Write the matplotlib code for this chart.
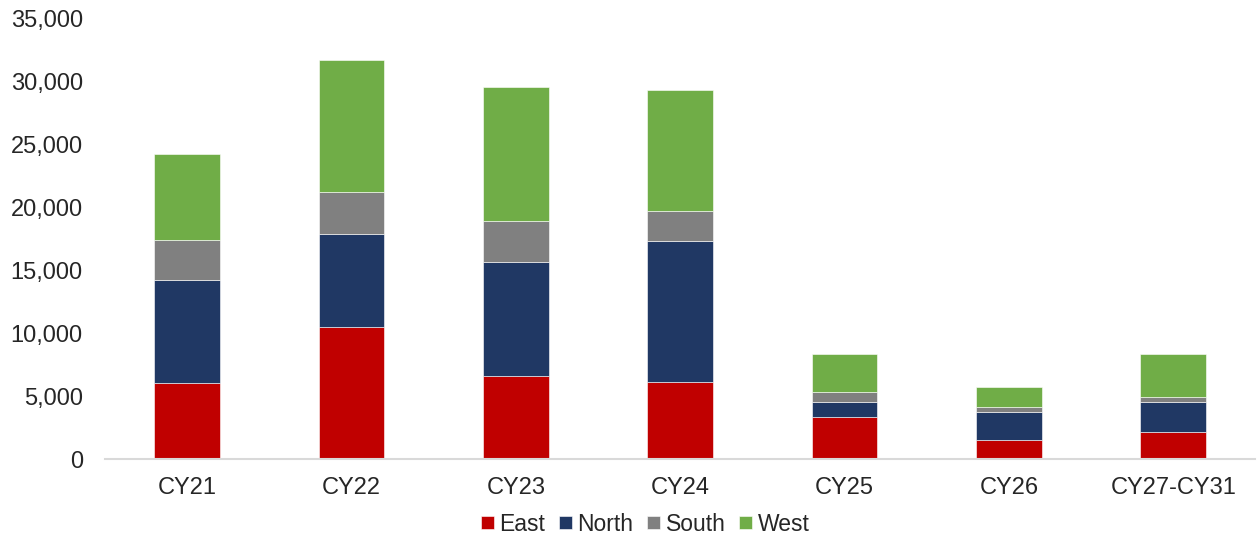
import matplotlib.pyplot as plt
import matplotlib.ticker as mticker
import numpy as np

plt.rcParams['font.family'] = ['Liberation Sans', 'DejaVu Sans']

categories = ['CY21', 'CY22', 'CY23', 'CY24', 'CY25', 'CY26', 'CY27-CY31']
east = [6000, 10450, 6550, 6100, 3300, 1480, 2120]
north = [8200, 7400, 9050, 11200, 1250, 2270, 2400]
south = [3200, 3350, 3300, 2400, 800, 400, 380]
west = [6800, 10500, 10600, 9600, 3000, 1540, 3430]

series = [('East', east, '#C00000'), ('North', north, '#203864'),
          ('South', south, '#808080'), ('West', west, '#70AD47')]

fig = plt.figure(figsize=(12.58, 5.38), dpi=100)
ax = fig.add_axes([0.0835, 0.1468, 0.9145, 0.8197])

x = np.arange(len(categories))
bottom = np.zeros(len(categories))
for name, vals, color in series:
    ax.bar(x, vals, width=0.4, bottom=bottom, color=color, label=name,
           edgecolor='white', linewidth=0.4)
    bottom += np.array(vals)

ax.set_xlim(-0.5, len(categories) - 0.5)
ax.set_ylim(0, 35000)
ax.set_yticks(np.arange(0, 35001, 5000))
ax.yaxis.set_major_formatter(mticker.FuncFormatter(lambda v, p: f'{int(v):,}'))
ax.set_xticks(x)
ax.set_xticklabels(categories)
ax.tick_params(axis='both', length=0, labelsize=17, colors='#262626')
ax.tick_params(axis='x', pad=13)
ax.tick_params(axis='y', pad=16)

for s in ['top', 'right', 'left']:
    ax.spines[s].set_visible(False)
ax.spines['bottom'].set_color('#D9D9D9')
ax.spines['bottom'].set_linewidth(1.5)

fig.legend(*ax.get_legend_handles_labels(), loc='center', bbox_to_anchor=(0.513, 0.026),
           ncol=4, frameon=False, fontsize=16.5, handlelength=0.55, handleheight=0.55,
           handletextpad=0.25, columnspacing=0.6, labelcolor='#262626',
           borderpad=0, borderaxespad=0)

fig.savefig('out.png', dpi=100)
